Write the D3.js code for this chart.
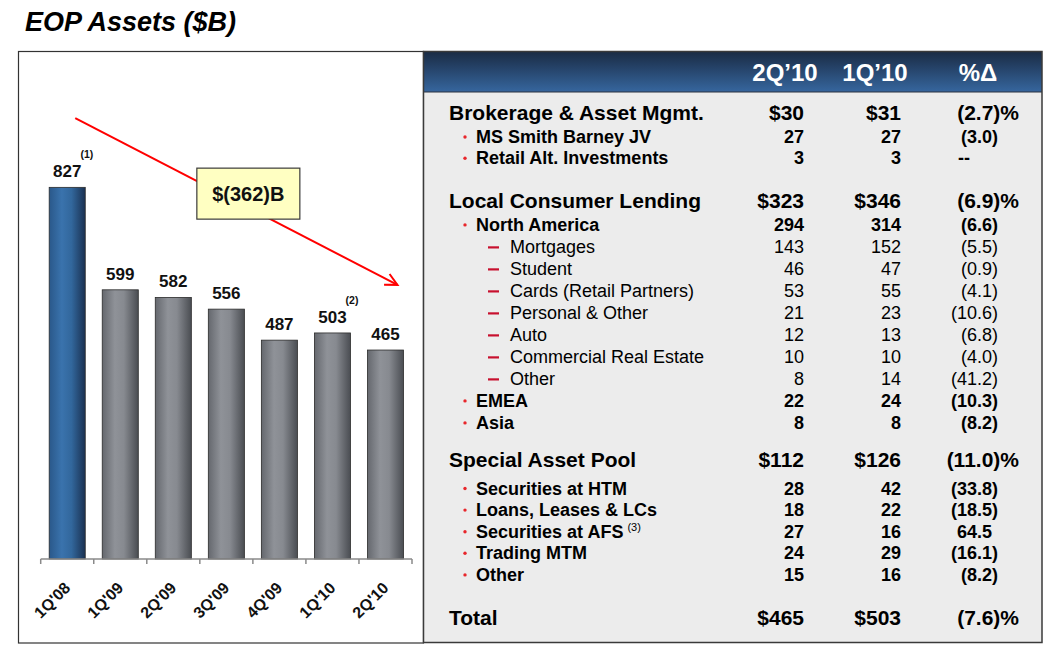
<!DOCTYPE html>
<html><head><meta charset="utf-8">
<script src="https://cdn.jsdelivr.net/npm/d3@7"></script>
<style>
body{margin:0;background:#fff;}
svg{display:block;font-family:"Liberation Sans",Arial,Helvetica,sans-serif;}
</style>
</head><body>
<svg id="c" width="1051" height="650"></svg>
<script>
// ---------------- DATA ----------------
const categories = ["1Q'08","1Q'09","2Q'09","3Q'09","4Q'09","1Q'10","2Q'10"];
const assets = [827, 599, 582, 556, 487, 503, 465];
const barFootnotes = ["(1)", "", "", "", "", "(2)", ""];

const headers = ["2Q’10", "1Q’10", "%Δ"];
const rowLabels = [
  "Brokerage & Asset Mgmt.", "MS Smith Barney JV", "Retail Alt. Investments",
  "Local Consumer Lending", "North America", "Mortgages", "Student", "Cards (Retail Partners)",
  "Personal & Other", "Auto", "Commercial Real Estate", "Other", "EMEA", "Asia",
  "Special Asset Pool", "Securities at HTM", "Loans, Leases & LCs", "Securities at AFS",
  "Trading MTM", "Other", "Total"
];
const rowLevels = [0,1,1, 0,1,2,2,2,2,2,2,2,1,1, 0,1,1,1,1,1, 0];
const rowFootnotes = ["","","","","","","","","","","","","","","","","","(3)","","",""];
const q2Values = [30,27,3, 323,294,143,46,53,21,12,10,8,22,8, 112,28,18,27,24,15, 465];
const q1Values = [31,27,3, 346,314,152,47,55,23,13,10,14,24,8, 126,42,22,16,29,16, 503];
const pctChanges = [-2.7,-3.0,null, -6.9,-6.6,-5.5,-0.9,-4.1,-10.6,-6.8,-4.0,-41.2,-10.3,-8.2,
  -11.0,-33.8,-18.5,64.5,-16.1,-8.2, -7.6];

// ---------------- SETUP ----------------
const svg = d3.select("#c");
const defs = svg.append("defs");
function hGrad(id, stops){
  const g = defs.append("linearGradient").attr("id", id)
    .attr("x1",0).attr("x2",1).attr("y1",0).attr("y2",0);
  stops.forEach(([o,c]) => g.append("stop").attr("offset", o).attr("stop-color", c));
}
hGrad("gGray", [[0,"#65686e"],[0.35,"#8f9298"],[0.6,"#878a90"],[1,"#4a4d52"]]);
hGrad("gBlue", [[0,"#2a588a"],[0.35,"#3a73ad"],[0.62,"#32679c"],[1,"#1a3152"]]);
const hg = defs.append("linearGradient").attr("id","gHead")
  .attr("x1",0).attr("x2",0).attr("y1",0).attr("y2",1);
hg.append("stop").attr("offset",0).attr("stop-color","#1a2b44");
hg.append("stop").attr("offset",1).attr("stop-color","#36669e");

defs.append("marker").attr("id","arrowHead")
  .attr("markerUnits","userSpaceOnUse").attr("markerWidth",16).attr("markerHeight",16)
  .attr("refX",13).attr("refY",7).attr("orient","auto")
  .append("path").attr("d","M1,1 L13,7 L1,13").attr("fill","none")
  .attr("stroke","#ff0000").attr("stroke-width",2);

// Title
svg.append("text").attr("x",25).attr("y",31)
  .style("font-size","27px").style("font-weight","bold").style("font-style","italic")
  .attr("fill","#000").text("EOP Assets ($B)");

// ---------------- LEFT: BAR CHART ----------------
svg.append("rect").attr("x",18.5).attr("y",51.5).attr("width",405).attr("height",591.5)
  .attr("fill","#fff").attr("stroke","#333").attr("stroke-width",1.2);

const x = d3.scaleBand().domain(categories).range([40.7, 412])
  .paddingInner(0.32).paddingOuter(0.16);
const y = d3.scaleLinear().domain([0, 1000]).range([559, 109.6]);
const bw = x.bandwidth();
const step = x.step();

const barData = categories.map((c,i) => ({cat:c, v:assets[i], note:barFootnotes[i], i}));

// annotation arrow (drawn before callout so box covers it)
const first = barData[0], last = barData[barData.length-1];
svg.append("line")
  .attr("x1", x(first.cat) + bw/2 + 8).attr("y1", y(981))
  .attr("x2", x(last.cat) + bw/2 + 12).attr("y2", y(610))
  .attr("stroke","#ff0000").attr("stroke-width",2)
  .attr("marker-end","url(#arrowHead)");

// bars
svg.append("g").selectAll("rect").data(barData).join("rect")
  .attr("x", d => x(d.cat)).attr("y", d => y(d.v))
  .attr("width", bw).attr("height", d => y(0) - y(d.v))
  .attr("fill", d => d.i === 0 ? "url(#gBlue)" : "url(#gGray)")
  .attr("stroke","#2b2b2b").attr("stroke-width",0.8);

// axis
const ay = y(0);
svg.append("line").attr("x1", x.range()[0]).attr("x2", x.range()[1])
  .attr("y1", ay).attr("y2", ay).attr("stroke","#8a8a8a").attr("stroke-width",1.5);
const tickXs = categories.map(c => x(c) - step * x.paddingInner()/2).concat([x.range()[1]]);
svg.append("g").selectAll("line").data(tickXs).join("line")
  .attr("x1", d => d).attr("x2", d => d).attr("y1", ay).attr("y2", ay + 5)
  .attr("stroke","#8a8a8a").attr("stroke-width",1.5);

// value labels
const lbl = svg.append("g").selectAll("text").data(barData).join("text")
  .attr("x", d => x(d.cat) + bw/2).attr("y", d => y(d.v) - 10)
  .attr("text-anchor","middle").style("font-size","17px").style("font-weight","bold")
  .attr("fill","#111").text(d => d.v);
lbl.each(function(d){
  if (!d.note) return;
  const w = this.getComputedTextLength();
  svg.append("text").attr("x", x(d.cat) + bw/2 + w/2 - 1).attr("y", y(d.v) - 10 - 19)
    .style("font-size","10.5px").style("font-weight","bold").attr("fill","#111").text(d.note);
});

// x labels
svg.append("g").selectAll("text").data(barData).join("text")
  .attr("transform", d => `translate(${x(d.cat) + bw/2 + 4},${ay + 30}) rotate(-45)`)
  .attr("text-anchor","end").style("font-size","16px").style("font-weight","bold")
  .attr("fill","#111").text(d => d.cat);

// callout
const cx = x("3Q'09") + bw/2 + 22, cy = y(813);
svg.append("rect").attr("x", cx - 51.5).attr("y", cy - 25.5).attr("width",103).attr("height",51)
  .attr("fill","#ffffc2").attr("stroke","#3a3a3a").attr("stroke-width",1.2);
svg.append("text").attr("x", cx).attr("y", cy + 7.5).attr("text-anchor","middle")
  .style("font-size","20px").style("font-weight","bold").attr("fill","#111")
  .text(`$(${first.v - last.v})B`);

// ---------------- RIGHT: TABLE ----------------
const T = {x:423.5, y:51.5, w:618.5, h:591, head:40.5};
svg.append("rect").attr("x",T.x).attr("y",T.y).attr("width",T.w).attr("height",T.h)
  .attr("fill","#ececec");
svg.append("rect").attr("x",T.x).attr("y",T.y).attr("width",T.w).attr("height",T.head)
  .attr("fill","url(#gHead)");
svg.append("line").attr("x1",T.x).attr("x2",T.x+T.w).attr("y1",T.y+T.head).attr("y2",T.y+T.head)
  .attr("stroke","#2a3240").attr("stroke-width",1.2);
svg.append("rect").attr("x",T.x).attr("y",T.y).attr("width",T.w).attr("height",T.h)
  .attr("fill","none").attr("stroke","#3a3a3a").attr("stroke-width",1.5);

const headCenters = [785, 875, 978];
svg.append("g").selectAll("text").data(headers).join("text")
  .attr("x", (d,i) => headCenters[i]).attr("y", 81).attr("text-anchor","middle")
  .style("font-size","24px").style("font-weight","bold").attr("fill","#fff").text(d => d);

// row layout: sections start at level-0 rows
const sectionLayout = [
  {base:120, first:23, step:21.3},
  {base:207.7, first:23.2, step:22},
  {base:467, first:27.5, step:21.6},
  {base:625, first:0, step:0}
];
let sec = -1, idx = 0;
const rows = rowLabels.map((label,i) => {
  if (rowLevels[i] === 0) { sec++; idx = 0; } else idx++;
  const L = sectionLayout[sec];
  const yb = idx === 0 ? L.base : L.base + L.first + (idx-1)*L.step;
  return {label, level:rowLevels[i], note:rowFootnotes[i], q2:q2Values[i], q1:q1Values[i], pct:pctChanges[i], yb};
});

const fontSize = l => l === 0 ? "21px" : "18px";
const fontWeight = l => l === 2 ? "normal" : "bold";
const labelX = [449, 476, 510];
const money = (v,l) => l === 0 ? "$" + v : String(v);
function pctText(p, l){
  if (p === null) return "--";
  const s = Math.abs(p).toFixed(1);
  const body = p < 0 ? `(${s})` : s;
  return l === 0 ? body + "%" : body;
}
function pctRight(p, l){
  if (p === null) return 970;
  if (l === 0) return 1019;
  return p < 0 ? 998 : 992;
}

const rg = svg.append("g").selectAll("g").data(rows).join("g");
rg.append("text").attr("x", d => labelX[d.level]).attr("y", d => d.yb)
  .style("font-size", d => fontSize(d.level)).style("font-weight", d => fontWeight(d.level))
  .attr("fill","#000")
  .each(function(d){
    const t = d3.select(this);
    t.append("tspan").text(d.label);
    if (d.note) t.append("tspan").attr("dx",4).attr("dy",-7)
      .style("font-size","11px").style("font-weight","normal").text(d.note);
  });
rg.filter(d => d.level === 1).append("circle")
  .attr("cx", 465).attr("cy", d => d.yb - 6).attr("r", 1.7).attr("fill","#e8262b");
rg.filter(d => d.level === 2).append("line")
  .attr("x1", 488).attr("x2", 499).attr("y1", d => d.yb - 5.5).attr("y2", d => d.yb - 5.5)
  .attr("stroke","#c8102e").attr("stroke-width",2.2);
rg.append("text").attr("x", 804).attr("y", d => d.yb).attr("text-anchor","end")
  .style("font-size", d => fontSize(d.level)).style("font-weight", d => fontWeight(d.level))
  .attr("fill","#000").text(d => money(d.q2, d.level));
rg.append("text").attr("x", 901).attr("y", d => d.yb).attr("text-anchor","end")
  .style("font-size", d => fontSize(d.level)).style("font-weight", d => fontWeight(d.level))
  .attr("fill","#000").text(d => money(d.q1, d.level));
rg.append("text").attr("x", d => pctRight(d.pct, d.level)).attr("y", d => d.yb).attr("text-anchor","end")
  .style("font-size", d => fontSize(d.level)).style("font-weight", d => fontWeight(d.level))
  .attr("fill","#000").text(d => pctText(d.pct, d.level));
</script>
</body></html>
